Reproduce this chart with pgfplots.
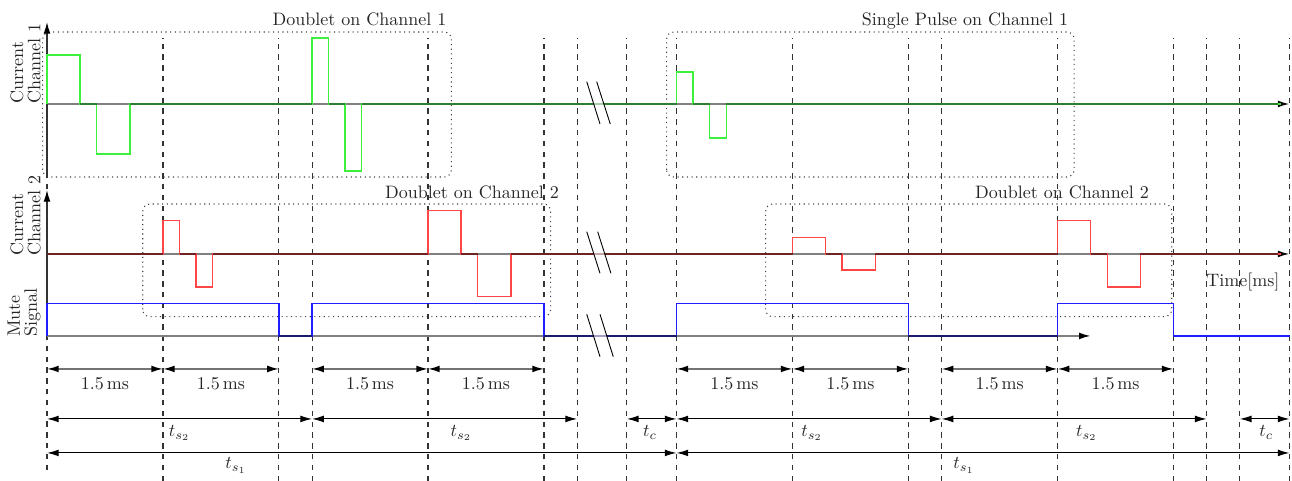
\documentclass[border=0pt]{standalone}
\usepackage{pgfplots}
\pgfplotsset{compat=1.18}
\usetikzlibrary{arrows.meta}
\definecolor{gpulse}{RGB}{60,240,60}
\definecolor{gbase}{RGB}{46,125,50}
\definecolor{rpulse}{RGB}{255,70,70}
\definecolor{rbase}{RGB}{110,35,35}
\definecolor{bpulse}{RGB}{30,30,255}
\definecolor{bbase}{RGB}{25,25,110}
\definecolor{axgray}{RGB}{128,128,128}
\tikzset{myarr/.tip={Latex[black,length=6.5pt,width=3.8pt]}}
\begin{document}
\begin{tikzpicture}
\begin{axis}[hide axis, scale only axis, width=717.8pt, height=267.2pt,
 xmin=-2.837, xmax=75.151, ymin=0, ymax=481, clip=false]
\path (rel axis cs:0,0) coordinate (BL) (rel axis cs:1,1) coordinate (TR);
% dashed time markers
\draw[dashed, black!80, line width=0.6pt]
 (0,11)--(0,443) (7,0)--(7,443) (14,0)--(14,443) (16,0)--(16,443) (23,0)--(23,443)
 (30,0)--(30,443) (32,0)--(32,443) (35,0)--(35,443) (38,0)--(38,443)
 (45,0)--(45,443) (52,0)--(52,443) (54,0)--(54,443) (61,0)--(61,443)
 (68,0)--(68,443) (70,0)--(70,443) (72,0)--(72,443) (75,0)--(75,443);
% dotted boxes
\draw[dotted, black!75, rounded corners=4pt, line width=0.6pt]
 (-0.26,304) rectangle (24.41,449)
 (37.4,304) rectangle (62.0,449)
 (5.78,164.3) rectangle (30.40,277)
 (43.38,164.3) rectangle (67.89,277);
% axes
\draw[axgray, line width=0.9pt, -{myarr}] (0,377)--(75,377);
\draw[axgray, line width=0.9pt, -{myarr}] (0,227)--(75,227);
\draw[axgray, line width=0.9pt, -{myarr}] (0,145)--(63,145);
\draw[black!80, line width=0.7pt, -{myarr}] (0,304)--(0,459);
\draw[black!80, line width=0.7pt, -{myarr}] (0,145)--(0,291);
% channel 1 signal
\addplot[gpulse, line width=0.8pt] coordinates {(0,377)(0,426)(2,426)(2,377)(3,377)(3,327)(5,327)(5,377)(16,377)(16,443)(17,443)(17,377)(18,377)(18,310)(19,310)(19,377)(38,377)(38,409)(39,409)(39,377)(40,377)(40,343)(41,343)(41,377)(74.5,377)};
\addplot[gbase, line width=1.1pt, unbounded coords=jump] coordinates {(2,377)(3,377) (3,nan) (5,377)(16,377) (16,nan) (17,377)(18,377) (18,nan) (19,377)(38,377) (38,nan) (39,377)(40,377) (40,nan) (41,377)(74.3,377)};
% channel 2 signal
\addplot[rpulse, line width=0.8pt] coordinates {(0,227)(7,227)(7,260.7)(8,260.7)(8,227)(9,227)(9,194)(10,194)(10,227)(23,227)(23,270.3)(25,270.3)(25,227)(26,227)(26,184.3)(28,184.3)(28,227)(45,227)(45,243.3)(47,243.3)(47,227)(48,227)(48,211)(50,211)(50,227)(61,227)(61,260.3)(63,260.3)(63,227)(64,227)(64,194)(66,194)(66,227)(74.5,227)};
\addplot[rbase, line width=1.1pt, unbounded coords=jump] coordinates {(0,227)(7,227) (7,nan) (8,227)(9,227) (9,nan) (10,227)(23,227) (23,nan) (25,227)(26,227) (26,nan) (28,227)(45,227) (45,nan) (47,227)(48,227) (48,nan) (50,227)(61,227) (61,nan) (63,227)(64,227) (64,nan) (66,227)(74.3,227)};
% mute signal
\addplot[bpulse, line width=0.8pt] coordinates {(0,145)(0,177.3)(14,177.3)(14,145)(16,145)(16,177.3)(30,177.3)(30,145)(38,145)(38,177.3)(52,177.3)(52,145)(61,145)(61,177.3)(68,177.3)(68,145)(75,145)};
\addplot[bbase, line width=1.1pt, unbounded coords=jump] coordinates {(14,145)(16,145) (16,nan) (30,145)(38,145) (38,nan) (52,145)(61,145)};
% break marks
\fill[white, opacity=0.6] (32.58,399.3)--(33.18,399.3)--(34.0,357)--(33.38,357)--cycle;
\draw[black, line width=0.5pt] (32.58,399.3)--(33.38,357) (33.18,399.3)--(34.0,357);
\fill[white, opacity=0.6] (32.58,249.3)--(33.24,249.3)--(34.04,207.7)--(33.38,207.7)--cycle;
\draw[black, line width=0.5pt] (32.58,249.3)--(33.38,207.7) (33.24,249.3)--(34.04,207.7);
\fill[white, opacity=0.6] (32.58,166.7)--(33.38,166.7)--(34.18,124.3)--(33.38,124.3)--cycle;
\draw[black, line width=0.5pt] (32.58,166.7)--(33.38,124.3) (33.38,166.7)--(34.18,124.3);
% dimension rows
\draw[black!55, line width=0.9pt, {myarr}-{myarr}] (0,112)--(7,112);
\draw[black!55, line width=0.9pt, {myarr}-{myarr}] (7,112)--(14,112);
\draw[black!55, line width=0.9pt, {myarr}-{myarr}] (16,112)--(23,112);
\draw[black!55, line width=0.9pt, {myarr}-{myarr}] (23,112)--(30,112);
\draw[black!55, line width=0.9pt, {myarr}-{myarr}] (38,112)--(45,112);
\draw[black!55, line width=0.9pt, {myarr}-{myarr}] (45,112)--(52,112);
\draw[black!55, line width=0.9pt, {myarr}-{myarr}] (54,112)--(61,112);
\draw[black!55, line width=0.9pt, {myarr}-{myarr}] (61,112)--(68,112);
\draw[black, line width=0.6pt, {myarr}-{myarr}] (0,62)--(16,62);
\draw[black, line width=0.6pt, {myarr}-{myarr}] (16,62)--(32,62);
\draw[black, line width=0.6pt, {myarr}-{myarr}] (35,62)--(38,62);
\draw[black, line width=0.6pt, {myarr}-{myarr}] (38,62)--(54,62);
\draw[black, line width=0.6pt, {myarr}-{myarr}] (54,62)--(70,62);
\draw[black, line width=0.6pt, {myarr}-{myarr}] (72,62)--(75,62);
\draw[black, line width=0.6pt, {myarr}-{myarr}] (0,28)--(38,28);
\draw[black, line width=0.6pt, {myarr}-{myarr}] (38,28)--(75,28);
% dimension labels
\node[anchor=base, black!85] at (3.5,91) {$1.5\,\mathrm{ms}$};
\node[anchor=base, black!85] at (10.5,91) {$1.5\,\mathrm{ms}$};
\node[anchor=base, black!85] at (19.5,91) {$1.5\,\mathrm{ms}$};
\node[anchor=base, black!85] at (26.5,91) {$1.5\,\mathrm{ms}$};
\node[anchor=base, black!85] at (41.5,91) {$1.5\,\mathrm{ms}$};
\node[anchor=base, black!85] at (48.5,91) {$1.5\,\mathrm{ms}$};
\node[anchor=base, black!85] at (57.5,91) {$1.5\,\mathrm{ms}$};
\node[anchor=base, black!85] at (64.5,91) {$1.5\,\mathrm{ms}$};
\node[anchor=base, black!85] at (8,44.5) {$t_{s_2}$};
\node[anchor=base, black!85] at (25,44.5) {$t_{s_2}$};
\node[anchor=base, black!85] at (46.17,44.5) {$t_{s_2}$};
\node[anchor=base, black!85] at (62.76,44.5) {$t_{s_2}$};
\node[anchor=base, black!85] at (36.4,44.5) {$t_c$};
\node[anchor=base, black!85] at (73.6,44.5) {$t_c$};
\node[anchor=base, black!85] at (11.4,12) {$t_{s_1}$};
\node[anchor=base, black!85] at (55.35,12) {$t_{s_1}$};
% titles
\node[anchor=base, black!85] at (18.86,455) {Doublet on Channel 1};
\node[anchor=base, black!85] at (55.41,455) {Single Pulse on Channel 1};
\node[anchor=base, black!85] at (25.65,282.7) {Doublet on Channel 2};
\node[anchor=base, black!85] at (61.27,282.7) {Doublet on Channel 2};
\node[anchor=base, black!85] at (72.19,194.3) {Time[ms]};
% axis labels
\node[rotate=90, anchor=south west, align=left, inner sep=0pt, black!85] at (-0.36,377) {Current\\[-2.5pt]Channel 1};
\node[rotate=90, anchor=south west, align=left, inner sep=0pt, black!85] at (-0.36,225) {Current\\[-2.5pt]Channel 2};
\node[rotate=90, anchor=south west, align=left, inner sep=0pt, black!85] at (-0.36,144) {Mute\\[-2.5pt]Signal};
\end{axis}
\pgfresetboundingbox
\path (BL) rectangle (TR);
\end{tikzpicture}
\end{document}
